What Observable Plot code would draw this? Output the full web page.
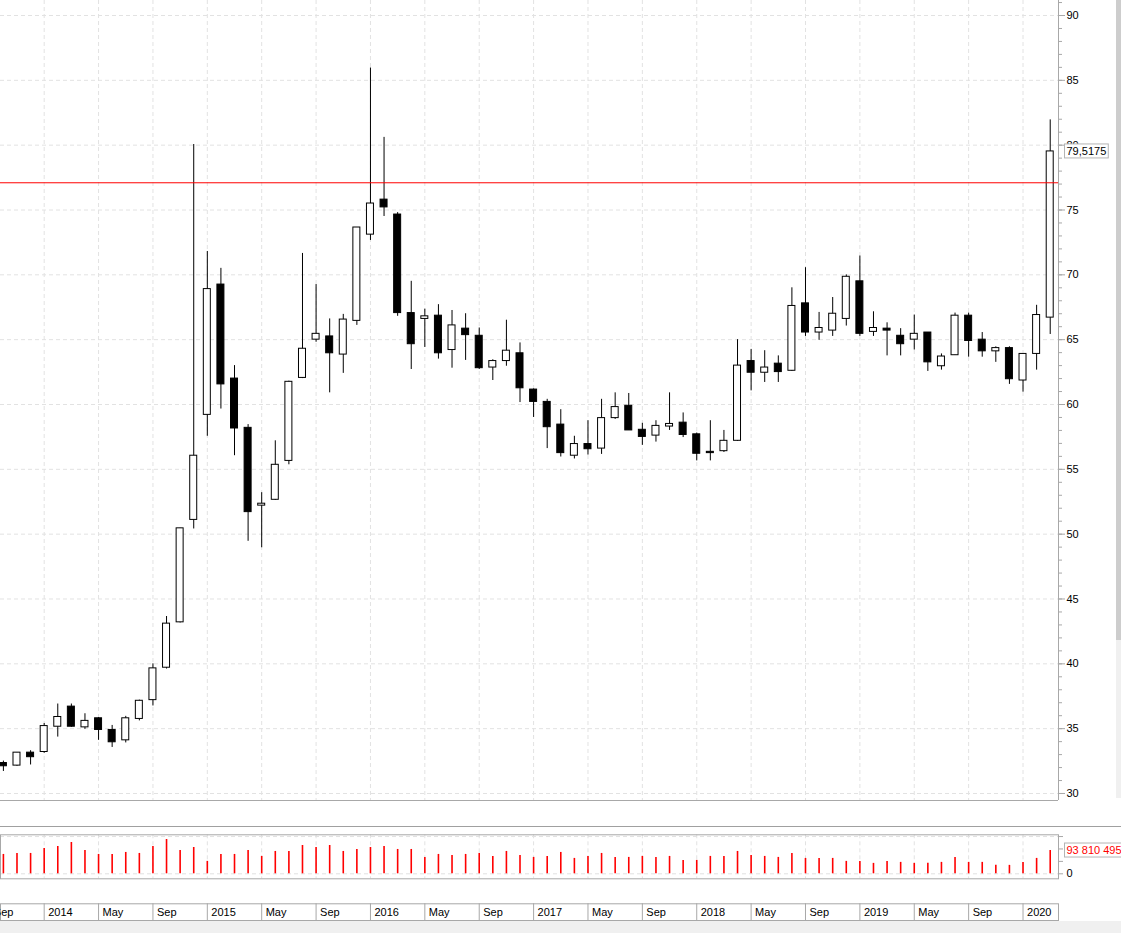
<!DOCTYPE html>
<html>
<head>
<meta charset="utf-8">
<script src="https://cdn.jsdelivr.net/npm/d3@7"></script>
<script src="https://cdn.jsdelivr.net/npm/@observablehq/plot@0.6"></script>
<style>
html, body { margin: 0; padding: 0; background: #fff; }
#wrap { position: relative; width: 1121px; height: 933px; overflow: hidden; background: #fff; }
#wrap svg { position: absolute; left: 0; }
.sep { position: absolute; left: 0; top: 826px; width: 1121px; height: 1px; background: #a0a0a0; }
.bottomgray { position: absolute; left: 0; top: 921px; width: 1121px; height: 12px; background: #f0f0f0; }
.sb1 { position: absolute; left: 1116px; top: 0; width: 5px; height: 640px; background: #cdcdcd; }
.sb2 { position: absolute; left: 1116px; top: 640px; width: 5px; height: 158px; background: #f0f0f0; }
</style>
</head>
<body>
<div id="wrap">
  <div class="sb1"></div>
  <div class="sb2"></div>
  <div class="sep"></div>
  <div class="bottomgray"></div>
</div>
<script>
// ---- Data (monthly candles, Oct 2013 .. Mar 2020) ----
const firstMonth = "2013-10";
const lastMonth = "2020-03";
const open = [32.35,32.15,33.15,33.2,35.15,36.7,35.1,35.8,34.9,34.1,35.75,37.2,39.7,43.2,51.1,59.2,69.25,62.0,58.2,52.2,
  52.65,55.65,62.05,65.0,65.25,63.85,66.45,73.1,75.8,74.65,67.05,66.6,66.85,64.2,65.85,65.3,62.85,63.35,63.95,61.15,
  60.2,58.45,56.05,56.95,56.6,58.95,59.9,58.05,57.6,58.3,58.6,57.7,56.35,56.4,57.2,63.35,62.45,63.15,62.6,67.8,
  65.55,65.7,66.6,69.5,65.6,65.85,65.3,65.0,65.55,62.95,63.8,66.85,65.0,64.1,64.35,61.85,63.9,66.7];
const high = [32.5,33.15,33.3,35.4,36.9,36.9,36.15,35.85,35.25,35.95,37.2,40.0,43.65,50.45,80.05,71.8,70.5,63.0,58.45,53.2,
  57.2,61.8,71.65,69.25,66.6,66.95,73.65,85.95,80.6,74.8,69.5,67.35,67.7,67.25,67.0,65.9,63.45,66.5,64.75,61.2,
  60.4,59.6,57.55,58.75,60.4,60.9,60.85,58.55,58.75,60.9,59.35,57.8,58.75,58.0,65.0,64.25,64.15,63.75,69.0,70.55,
  67.1,68.25,70.0,71.45,67.15,66.3,65.85,66.9,65.55,63.9,67.05,67.05,65.55,64.45,64.45,63.9,67.65,81.95];
const low = [31.7,32.1,32.2,33.1,34.35,35.1,34.95,34.1,33.55,33.9,35.6,36.75,39.6,43.15,50.4,57.55,59.65,56.05,49.45,48.95,
  52.6,55.35,62.0,64.8,60.9,62.4,66.1,72.65,74.5,66.8,62.7,64.4,63.5,62.8,63.4,62.7,61.85,62.95,60.15,59.0,
  56.6,55.95,55.8,56.1,56.15,58.85,58.0,56.85,57.1,58.0,57.45,55.65,55.65,56.3,57.15,61.05,61.7,61.7,62.55,65.25,
  64.95,65.25,66.05,65.25,65.25,63.75,63.75,64.2,62.55,62.65,63.8,63.65,63.65,63.25,61.55,60.95,62.65,65.4];
const close = [32.1,33.15,32.8,35.2,35.9,35.15,35.6,34.9,33.95,35.8,37.15,39.65,43.1,50.45,56.05,68.9,61.55,58.15,51.7,52.35,
  55.35,61.75,64.3,65.45,63.95,66.55,73.65,75.5,75.2,67.05,64.65,66.8,63.95,66.1,65.35,62.8,63.35,64.15,61.25,60.2,
  58.25,56.25,56.95,56.55,58.95,59.8,58.0,57.5,58.35,58.5,57.65,56.2,56.25,57.2,63.0,62.45,62.85,62.5,67.6,65.55,
  65.9,67.0,69.85,65.45,65.9,65.7,64.65,65.45,63.25,63.7,66.85,64.9,64.1,64.35,61.95,63.9,66.9,79.5175];
// volume in millions of shares
const volumeM = [78,82,82,102,110,126,94,78,78,86,82,110,138,94,106,50,78,78,94,70,
  90,90,114,106,114,90,98,106,110,98,98,66,78,74,78,82,70,90,74,66,
  70,86,62,70,82,66,66,70,66,70,54,54,70,70,90,74,70,66,82,62,
  62,62,50,50,42,50,46,42,42,46,66,46,46,34,34,46,62,93.810495];
// month boundaries labelled on the time axis
const tickMonths = ["2013-09","2014-01","2014-05","2014-09","2015-01","2015-05","2015-09","2016-01","2016-05","2016-09",
  "2017-01","2017-05","2017-09","2018-01","2018-05","2018-09","2019-01","2019-05","2019-09","2020-01"];
const priceTicks = [30,35,40,45,50,55,60,65,70,75,80,85,90];
const volumeTicks = [0, 50e6, 100e6, 150e6];
const resistanceLevel = 77.1;

// ---- Build tables ----
const parseM = d3.utcParse("%Y-%m");
const m0 = parseM(firstMonth);
const monthIndex = s => { const d = parseM(s); return (d.getUTCFullYear() - m0.getUTCFullYear()) * 12 + d.getUTCMonth() - m0.getUTCMonth(); };
const months = d3.utcMonths(m0, d3.utcMonth.offset(parseM(lastMonth), 1));
const candles = months.map((d, i) => ({i, date: d, open: open[i], high: high[i], low: low[i], close: close[i], volume: volumeM[i] * 1e6}));
const ticks = tickMonths.map(s => {
  const d = parseM(s);
  return {i: monthIndex(s), label: d.getUTCMonth() === 0 ? String(d.getUTCFullYear()) : d3.utcFormat("%b")(d)};
});
const tickIdx = ticks.map(t => t.i);
const last = candles[candles.length - 1];

// ---- Layout ----
const W = 1121, MR = 63;
const xDom = [-0.213, 77.61];
const pxPerUnit = (W - MR) / (xDom[1] - xDom[0]);
const hw = 3.5 / pxPerUnit;
const yDom = [29.46, 91.157];
const font = {fontFamily: "'Liberation Sans', Arial, sans-serif", fontSize: "11px", color: "#000", background: "transparent", overflow: "hidden"};
const gridStyle = {stroke: "#e2e2e2", strokeDasharray: "4,3"};
const frameGray = "#a8a8a8";

const plotA = Plot.plot({
  width: W, height: 826,
  marginLeft: 0, marginRight: MR, marginTop: 0, marginBottom: 26,
  x: {domain: xDom, axis: null},
  y: {domain: yDom, axis: null},
  style: font,
  marks: [
    Plot.ruleY(priceTicks, gridStyle),
    Plot.ruleX(tickIdx, gridStyle),
    Plot.ruleX(candles, {x: "i", y1: "low", y2: "high", stroke: "#000"}),
    Plot.rect(candles, {x1: d => d.i - hw, x2: d => d.i + hw, y1: "open", y2: "close",
      fill: d => d.close >= d.open ? "#fff" : "#000", stroke: "#000"}),
    Plot.ruleY([resistanceLevel], {stroke: "#ff0000"}),
    Plot.ruleY([yDom[0]], {stroke: frameGray}),
    Plot.ruleX([xDom[1]], {stroke: frameGray}),
    Plot.axisY({anchor: "right", label: null, ticks: d3.range(30, 92, 1), tickSize: 3, tickFormat: () => "", stroke: frameGray}),
    Plot.axisY({anchor: "right", label: null, ticks: priceTicks, tickSize: 6, tickPadding: 2, stroke: frameGray, fill: "#000"}),
    Plot.text([last], {y: "close", frameAnchor: "right", dx: 8, textAnchor: "start",
      text: d => String(d.close).replace(".", ","), fill: "#000"})
  ]
});

const plotB = Plot.plot({
  width: W, height: 60,
  marginLeft: 0, marginRight: MR, marginTop: 8.3, marginBottom: 7.7,
  x: {domain: xDom, axis: null},
  y: {domain: [-20.1e6, 157e6], axis: null, label: null},
  style: font,
  marks: [
    Plot.ruleY([0, 150e6], gridStyle),
    Plot.ruleX(tickIdx, gridStyle),
    Plot.ruleX(candles, {x: "i", y1: 0, y2: "volume", stroke: "#ff0000", strokeWidth: 1.6}),
    Plot.frame({stroke: frameGray}),
    Plot.axisY({anchor: "right", label: null, ticks: volumeTicks, tickSize: 4, tickPadding: 4, stroke: frameGray, fill: "#000",
      tickFormat: d => d === 0 ? "0" : ""}),
    Plot.text([last], {y: "volume", frameAnchor: "right", dx: 8, textAnchor: "start",
      text: d => d3.format(",")(Math.round(d.volume)).replace(/,/g, " "), fill: "#ff0000"})
  ]
});

const plotC = Plot.plot({
  width: W, height: 21,
  marginLeft: 0, marginRight: MR, marginTop: 3.3, marginBottom: 1,
  x: {domain: xDom, axis: null},
  style: font,
  marks: [
    Plot.frame({stroke: frameGray}),
    Plot.ruleX(tickIdx, {stroke: frameGray}),
    Plot.text(ticks, {x: "i", text: "label", frameAnchor: "middle", textAnchor: "start", dx: 4, fill: "#000"})
  ]
});

const wrap = document.getElementById("wrap");
[[plotA, 0], [plotB, 826], [plotC, 900]].forEach(([svg, top]) => {
  svg.style.position = "absolute";
  svg.style.top = top + "px";
  svg.style.left = "0px";
  wrap.appendChild(svg);
});
wrap.querySelectorAll(".sep,.sb1,.sb2,.bottomgray").forEach(el => { el.style.zIndex = 2; });

// boxed value labels on the right axis
function boxLabel(svg, str) {
  d3.select(svg).selectAll("text").filter(function() { return this.textContent === str; }).each(function() {
    const b = this.getBBox();
    const r = document.createElementNS("http://www.w3.org/2000/svg", "rect");
    r.setAttribute("x", b.x - 2);
    r.setAttribute("y", b.y - 1);
    r.setAttribute("width", b.width + 4);
    r.setAttribute("height", b.height + 2);
    r.setAttribute("fill", "#fff");
    r.setAttribute("stroke", "#b4b4b4");
    const t = this.getAttribute("transform");
    if (t) r.setAttribute("transform", t);
    this.parentNode.insertBefore(r, this);
  });
}
boxLabel(plotA, String(last.close).replace(".", ","));
boxLabel(plotB, d3.format(",")(Math.round(last.volume)).replace(/,/g, " "));
</script>
</body>
</html>
